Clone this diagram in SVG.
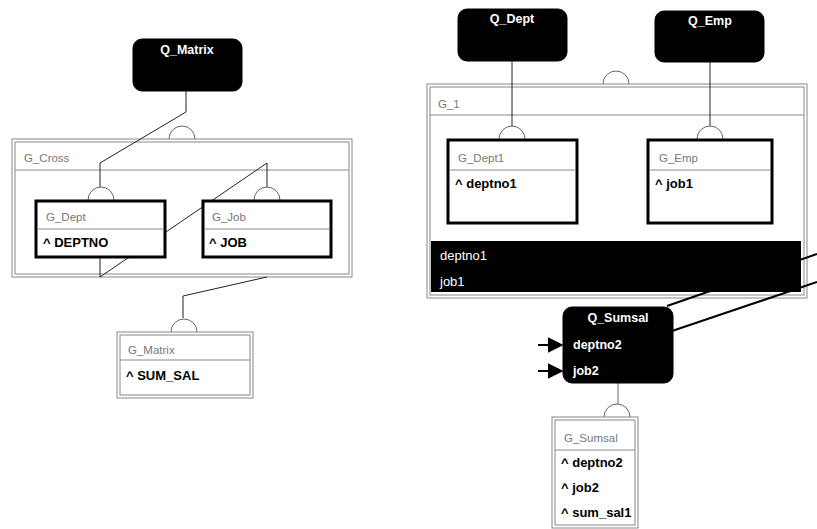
<svg xmlns="http://www.w3.org/2000/svg" width="817" height="529" viewBox="0 0 817 529">
<style>
.q{fill:#000;stroke:#000}
.qt{fill:#fff;font-family:"Liberation Sans",Arial,sans-serif;font-size:12.5px;font-weight:bold}
.qi{fill:#fff;font-family:"Liberation Sans",Arial,sans-serif;font-size:13px}
.dbl{fill:#fff;stroke:#888;stroke-width:1}
.thick{fill:#fff;stroke:#000;stroke-width:3}
.sep{stroke:#888;stroke-width:1}
.title{fill:#777;font-family:"Liberation Sans",Arial,sans-serif;font-size:11.5px}
.item{fill:#000;font-family:"Liberation Sans",Arial,sans-serif;font-size:13px;font-weight:bold}
.ln{fill:none;stroke:#222;stroke-width:1}
.arc{fill:#fff;stroke:#666;stroke-width:1}
</style>
<defs>
<marker id="ah" viewBox="0 0 10 10" refX="9" refY="5" markerWidth="8" markerHeight="8" orient="auto">
<path d="M0,0 L10,5 L0,10 Z" fill="#000"/>
</marker>
</defs>

<g id="G_Cross">
<path class="arc" d="M169,139 A13,13 0 0 1 195,139"/>
<rect class="dbl" x="12" y="139" width="340" height="138"/>
<rect class="dbl" x="15" y="142" width="334" height="132"/>
<line class="sep" x1="15" y1="170" x2="349" y2="170"/>
<text class="title" x="24" y="162">G_Cross</text>
</g>

<g id="G_1">
<path class="arc" d="M603,84 A13,13 0 0 1 629,84"/>
<rect class="dbl" x="427" y="84" width="380" height="214"/>
<rect class="dbl" x="430" y="87" width="374" height="208"/>
<line class="sep" x1="430" y1="115" x2="804" y2="115"/>
<text class="title" x="438" y="108">G_1</text>
<rect x="431" y="241" width="370" height="51" fill="#000"/>
<text class="qi" x="440" y="260">deptno1</text>
<text class="qi" x="440" y="286">job1</text>
</g>

<g id="connectors">
<polyline class="ln" points="186,91 186,112 100,163 100,187"/>
<polyline class="ln" points="100,258 100,277 267,163 267,187"/>
<polyline class="ln" points="267,277 183,296 183,318"/>
<line class="ln" x1="512" y1="61" x2="512" y2="126"/>
<line class="ln" x1="710" y1="62" x2="710" y2="126"/>
<line x1="817" y1="254" x2="667" y2="306" stroke="#000" stroke-width="2"/>
<line x1="817" y1="282" x2="672" y2="331" stroke="#000" stroke-width="2"/>
<line x1="538" y1="345" x2="562" y2="345" stroke="#000" stroke-width="2" marker-end="url(#ah)"/>
<line x1="538" y1="371" x2="562" y2="371" stroke="#000" stroke-width="2" marker-end="url(#ah)"/>
<line x1="618" y1="383" x2="618" y2="404" stroke="#666" stroke-width="1"/>
</g>

<g id="Q_Matrix">
<rect class="q" x="133" y="39" width="109" height="52" rx="9"/>
<text class="qt" x="187" y="54" text-anchor="middle">Q_Matrix</text>
</g>

<g id="G_Dept">
<path class="arc" d="M88,200 A13,13 0 0 1 114,200"/>
<rect class="thick" x="36" y="201" width="129" height="56"/>
<line class="sep" x1="37" y1="229" x2="164" y2="229"/>
<text class="title" x="46" y="221">G_Dept</text>
<text class="item" x="43" y="247">^ DEPTNO</text>
</g>

<g id="G_Job">
<path class="arc" d="M254,200 A13,13 0 0 1 280,200"/>
<rect class="thick" x="203" y="201" width="128" height="56"/>
<line class="sep" x1="204" y1="229" x2="330" y2="229"/>
<text class="title" x="212" y="221">G_Job</text>
<text class="item" x="209" y="247">^ JOB</text>
</g>

<g id="G_Matrix">
<path class="arc" d="M171,332 A13,13 0 0 1 197,332"/>
<rect class="dbl" x="117" y="332" width="136" height="66"/>
<rect class="dbl" x="120" y="335" width="130" height="60"/>
<line class="sep" x1="120" y1="360" x2="250" y2="360"/>
<text class="title" x="128" y="354">G_Matrix</text>
<text class="item" x="126" y="380">^ SUM_SAL</text>
</g>

<g id="Q_Dept">
<rect class="q" x="458" y="9" width="109" height="52" rx="9"/>
<text class="qt" x="512" y="23" text-anchor="middle">Q_Dept</text>
</g>

<g id="Q_Emp">
<rect class="q" x="655" y="11" width="109" height="51" rx="9"/>
<text class="qt" x="710" y="25" text-anchor="middle">Q_Emp</text>
</g>

<g id="G_Dept1">
<path class="arc" d="M499,139 A13,13 0 0 1 525,139"/>
<rect class="thick" x="448" y="140" width="129" height="83"/>
<line class="sep" x1="449" y1="170" x2="576" y2="170"/>
<text class="title" x="458" y="162">G_Dept1</text>
<text class="item" x="455" y="188">^ deptno1</text>
</g>

<g id="G_Emp">
<path class="arc" d="M697,139 A13,13 0 0 1 723,139"/>
<rect class="thick" x="648" y="140" width="124" height="83"/>
<line class="sep" x1="649" y1="170" x2="771" y2="170"/>
<text class="title" x="659" y="162">G_Emp</text>
<text class="item" x="655" y="188">^ job1</text>
</g>

<g id="Q_Sumsal">
<rect class="q" x="563" y="307" width="110" height="76" rx="9"/>
<text class="qt" x="618" y="322" text-anchor="middle">Q_Sumsal</text>
<text class="qt" x="573" y="349">deptno2</text>
<text class="qt" x="573" y="375">job2</text>
</g>

<g id="G_Sumsal">
<path class="arc" d="M604,417 A13,13 0 0 1 630,417"/>
<rect class="dbl" x="552" y="417" width="86" height="111"/>
<rect class="dbl" x="555" y="420" width="80" height="105"/>
<line class="sep" x1="555" y1="450" x2="635" y2="450"/>
<text class="title" x="564" y="442">G_Sumsal</text>
<text class="item" x="561" y="467">^ deptno2</text>
<text class="item" x="561" y="492">^ job2</text>
<text class="item" x="561" y="517">^ sum_sal1</text>
</g>
</svg>
